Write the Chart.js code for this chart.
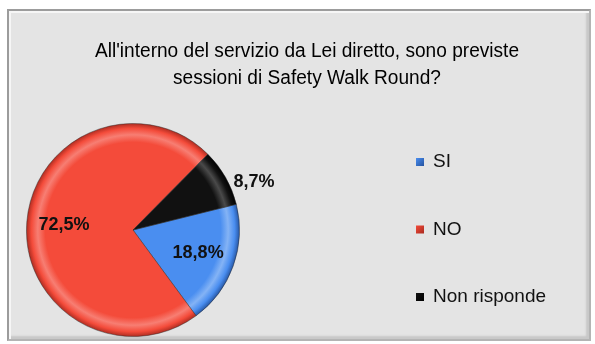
<!DOCTYPE html>
<html>
<head>
<meta charset="utf-8">
<script src="https://cdn.jsdelivr.net/npm/chart.js@4.4.1/dist/chart.umd.min.js"></script>
<style>
    html, body { margin: 0; padding: 0; background: #fff; }
    body { width: 595px; height: 344px; position: relative; overflow: hidden; }
    #frame {
        position: absolute; left: 7px; top: 9px; width: 584px; height: 332px;
        box-sizing: border-box;
        background: #e4e4e4;
        border: 2px solid #9c9c9c;
        border-right-color: #b4b4b4;
        border-bottom-color: #b4b4b4;
        box-shadow: inset 2px 2px 0 #f6f6f6, inset -3px -3px 2px #c8c8c8;
    }
    #wrap { position: absolute; left: 0; top: 0; width: 595px; height: 344px; }
</style>
</head>
<body>
<div id="frame"></div>
<div id="wrap"><canvas id="swrChart" width="595" height="344"></canvas></div>
<script>
    // Risposte alla domanda sulle Safety Walk Round
    const categorie = ['SI', 'NO', 'Non risponde'];
    const percentuali = [18.8, 72.5, 8.7];
    const coloriBase = ['#4a8ef0', '#f44b3a', '#111111'];
    const coloriBordo = ['#24529e', '#a82a1f', '#000000'];
    const titolo = ["All'interno del servizio da Lei diretto, sono previste", 'sessioni di Safety Walk Round?'];

    const fontTesto = '"Liberation Sans", Arial, sans-serif';

    // riempimento a rilievo: bordo esterno più scuro, fascia chiara vicino al bordo
    function sfumatura(context) {
        const i = context.dataIndex;
        const area = context.chart.chartArea;
        if (!area) return coloriBase[i];
        const cx = (area.left + area.right) / 2;
        const cy = (area.top + area.bottom) / 2;
        const r = Math.min(area.right - area.left, area.bottom - area.top) / 2;
        const g = context.chart.ctx.createRadialGradient(cx, cy, 0, cx, cy, r);
        const base = coloriBase[i];
        const chiaro = i === 2 ? '#4a4a4a' : Chart.helpers.color(base).lighten(0.2).rgbString();
        g.addColorStop(0, base);
        g.addColorStop(0.82, base);
        g.addColorStop(0.89, chiaro);
        g.addColorStop(0.95, base);
        g.addColorStop(1, coloriBordo[i]);
        return g;
    }

    const titoloPlugin = {
        id: 'titoloDoppio',
        afterDraw(chart) {
            const ctx = chart.ctx;
            ctx.save();
            ctx.fillStyle = '#000';
            ctx.font = '20px ' + fontTesto;
            ctx.textAlign = 'center';
            ctx.textBaseline = 'alphabetic';
            // carattere leggermente stretto in orizzontale
            ctx.translate(307, 0);
            ctx.scale(0.955, 1);
            titolo.forEach((riga, k) => ctx.fillText(riga, 0, 57 + k * 27));
            ctx.restore();
        }
    };

    const legendaPlugin = {
        id: 'legendaDestra',
        afterDraw(chart) {
            const ctx = chart.ctx;
            ctx.save();
            ctx.font = '19px ' + fontTesto;
            ctx.textBaseline = 'middle';
            categorie.forEach((nome, i) => {
                const y = 162 + i * 67.5;
                const g = ctx.createLinearGradient(416, y - 4, 424, y + 4);
                g.addColorStop(0, coloriBase[i]);
                g.addColorStop(1, coloriBordo[i]);
                ctx.fillStyle = g;
                ctx.fillRect(416, y - 4, 8, 8);
                ctx.fillStyle = '#111';
                ctx.fillText(nome, 433, y);
            });
            ctx.restore();
        }
    };

    // etichette percentuali: dentro le fette grandi, fuori per quelle piccole
    const etichettePlugin = {
        id: 'etichettePct',
        afterDatasetsDraw(chart) {
            const ctx = chart.ctx;
            const meta = chart.getDatasetMeta(0);
            ctx.save();
            ctx.font = 'bold 18px ' + fontTesto;
            ctx.fillStyle = '#111';
            ctx.textBaseline = 'middle';
            meta.data.forEach((arc, i) => {
                const mid = (arc.startAngle + arc.endAngle) / 2;
                const testo = percentuali[i].toFixed(1).replace('.', ',') + '%';
                if (percentuali[i] < 10) {
                    const bx = arc.x + Math.cos(mid) * arc.outerRadius;
                    const by = arc.y + Math.sin(mid) * arc.outerRadius;
                    ctx.textAlign = 'left';
                    ctx.fillText(testo, bx + 8, by + 5);
                } else {
                    ctx.textAlign = 'center';
                    ctx.fillText(testo, arc.x + Math.cos(mid) * arc.outerRadius * 0.65,
                        arc.y + Math.sin(mid) * arc.outerRadius * 0.65);
                }
            });
            ctx.restore();
        }
    };

    new Chart(document.getElementById('swrChart'), {
        type: 'pie',
        data: {
            labels: categorie,
            datasets: [{
                data: percentuali,
                backgroundColor: sfumatura,
                borderColor: 'rgba(40,40,40,0.45)',
                borderWidth: 1
            }]
        },
        options: {
            responsive: false,
            animation: false,
            rotation: 76,
            layout: { padding: { left: 26, top: 122, right: 355, bottom: 6 } },
            plugins: {
                legend: { display: false },
                title: { display: false },
                tooltip: { enabled: false }
            }
        },
        plugins: [titoloPlugin, legendaPlugin, etichettePlugin]
    });
</script>
</body>
</html>
